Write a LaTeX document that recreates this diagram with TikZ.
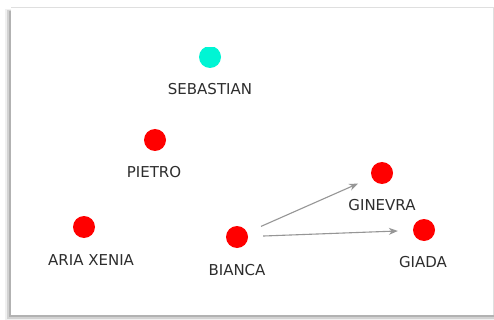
\documentclass[tikz,border=0pt]{standalone}
\usepackage{fontspec}
\setmainfont{DejaVu Sans}
\usetikzlibrary{arrows.meta}
\definecolor{dotred}{RGB}{255,0,0}
\definecolor{dotteal}{RGB}{0,245,212}
\definecolor{edgegray}{RGB}{150,150,150}
\definecolor{labelgray}{RGB}{45,45,45}
\tikzset{
  person/.style={circle,fill=dotred,draw=none,minimum size=22pt,inner sep=0pt},
  plabel/.style={anchor=base,inner sep=0pt,text=labelgray,font=\fontsize{15}{15}\selectfont},
  link/.style={draw=edgegray,line width=1.1pt,-{Stealth[length=9pt,width=7pt]},shorten <=15pt,shorten >=15pt}
}
\begin{document}
\begin{tikzpicture}[x=1pt,y=-1pt]
\useasboundingbox (0,0) rectangle (494,320);
% panel with shadow
\fill[gray!12] (5,9) rectangle (494,320);
\fill[gray!35] (7,10) rectangle (494,318.5);
\fill[gray!60] (9,11) rectangle (494,317);
\fill[white] (11,7) rectangle (493,315);
\draw[gray!25,line width=0.6pt] (11,7) -- (493,7) -- (493,315);
% nodes
\begin{scope}
\clip (0,48) rectangle (494,320);
\node[person,fill=dotteal] (seb) at (210,57) {};
\end{scope}
\node[person] (pie) at (155,140) {};
\node[person] (ari) at (84,227) {};
\node[person] (bia) at (237,237) {};
\node[person] (gin) at (382,173) {};
\node[person] (gia) at (424,230) {};
% labels
\node[plabel] (lseb) at (210,94.5) {SEBASTIAN};
\node[plabel] (lpie) at (154,177.5) {PIETRO};
\node[plabel,anchor=base west] (lari) at (48,265.5) {ARIA XENIA};
\node[plabel] (lbia) at (237,275.5) {BIANCA};
\node[plabel] (lgin) at (382,210.5) {GINEVRA};
\node[plabel] (lgia) at (423,267.5) {GIADA};
% links
\draw[link] (bia) -- (gin);
\draw[link] (bia) -- (gia);
\end{tikzpicture}
\end{document}
